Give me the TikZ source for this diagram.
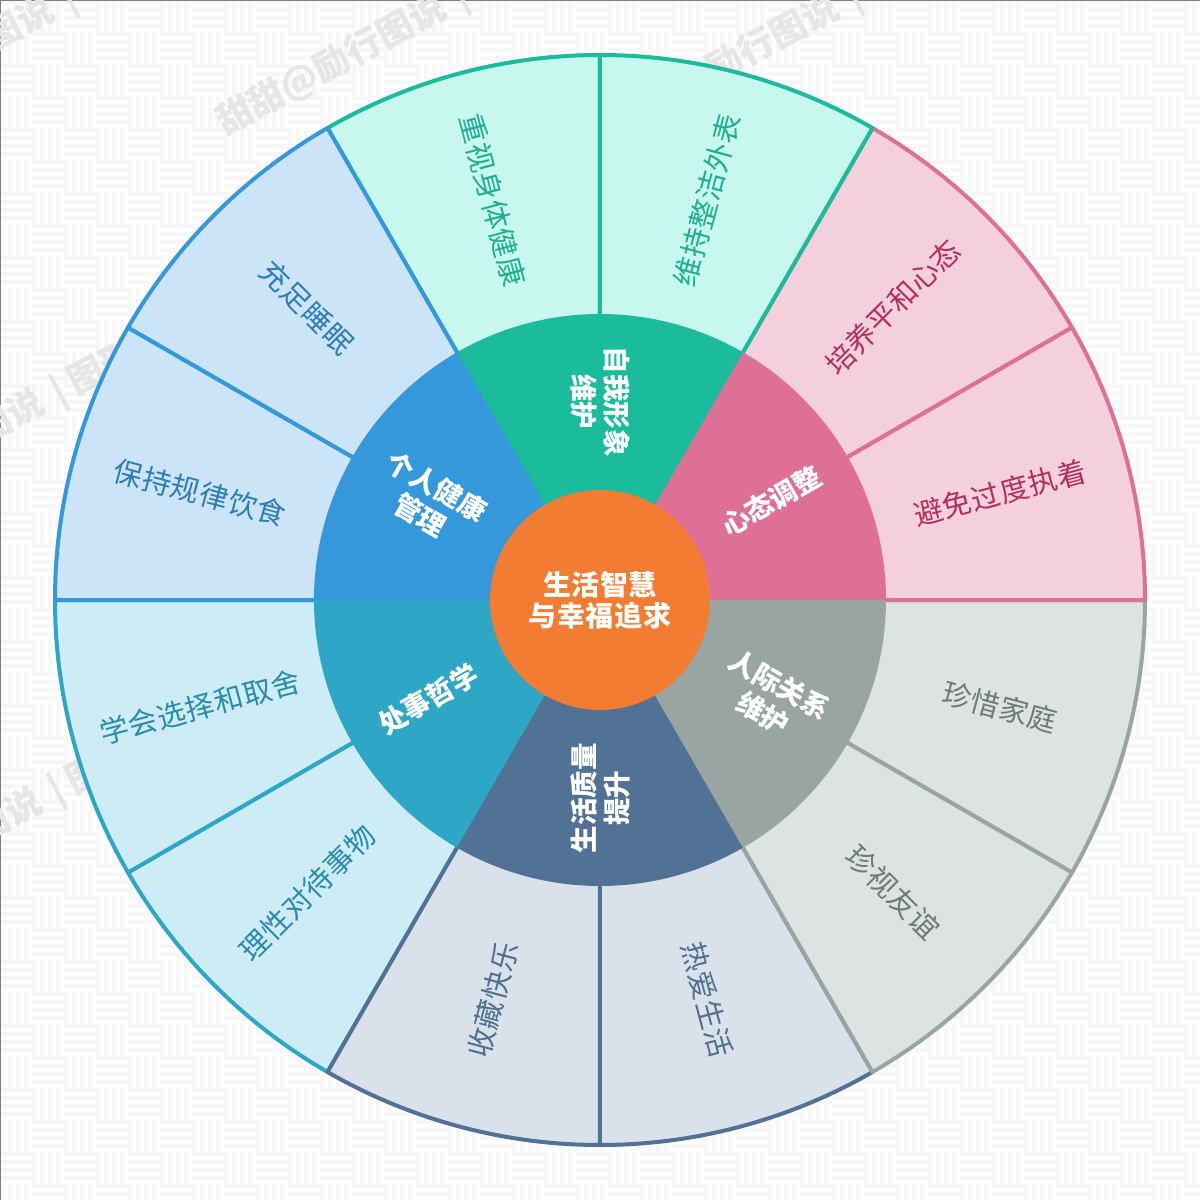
\documentclass[tikz,border=0pt]{standalone}
\usepackage{fontspec}
\newfontfamily\cjk{Noto Sans CJK SC}
\definecolor{wmk}{HTML}{E6E6E6}
\definecolor{stripe}{HTML}{F7F7F7}
\definecolor{paper}{HTML}{FEFEFE}
\definecolor{gA}{HTML}{DE7095}\definecolor{lA}{HTML}{F4CFDC}\definecolor{tA}{HTML}{B03060}
\definecolor{gB}{HTML}{1ABC9C}\definecolor{lB}{HTML}{C8F7EE}\definecolor{tB}{HTML}{1FAE92}
\definecolor{gC}{HTML}{3498DB}\definecolor{lC}{HTML}{CCE4F7}\definecolor{tC}{HTML}{2E7DB5}
\definecolor{gD}{HTML}{2EA6C6}\definecolor{lD}{HTML}{CDECF5}\definecolor{tD}{HTML}{2A8BAB}
\definecolor{gE}{HTML}{527295}\definecolor{lE}{HTML}{D9E1EA}\definecolor{tE}{HTML}{50708F}
\definecolor{gF}{HTML}{99A5A3}\definecolor{lF}{HTML}{DDE2E2}\definecolor{tF}{HTML}{6F7A78}
\definecolor{hub}{HTML}{F27C32}
\tikzset{
 outerlabel/.style={font=\cjk\addfontfeature{LetterSpace=2}\fontsize{29}{32}\selectfont,inner sep=0pt},
 midlabel/.style={font=\cjk\bfseries\fontsize{27.5}{33}\selectfont,text=white,align=center,inner sep=0pt},
 hublabel/.style={font=\cjk\bfseries\addfontfeature{LetterSpace=2}\fontsize{28}{31}\selectfont,text=white,align=center,inner sep=0pt},
 wmlabel/.style={font=\cjk\bfseries\fontsize{36}{36}\selectfont,text=wmk,inner sep=0pt,rotate=28,anchor=base east},
}
\newcommand{\outersec}[2]{\filldraw[fill=l#2,draw=g#2,line width=4pt,line join=round]
  (0,0) -- (#1:545) arc[start angle=#1,delta angle=30,radius=545] -- cycle;}
\newcommand{\midsec}[2]{\fill[g#2] (0,0) -- (#1:286) arc[start angle=#1,delta angle=60,radius=286] -- cycle;}
\newcommand{\wm}[3]{\node[wmlabel] (#1) at (#2) {甜甜@励行图说};\path (#2) ++(28:14) node[wmlabel,anchor=base west] (#1x) {#3};}
\begin{document}
\begin{tikzpicture}[x=1pt,y=1pt]
\useasboundingbox (-600,-600) rectangle (600,600);
\clip (-600,-600) rectangle (600,600);
\fill[paper] (-600,-600) rectangle (600,600);
% woven background
\foreach \i in {0,...,37}{\foreach \j in {0,...,37}{
  \pgfmathtruncatemacro{\px}{32*\i-600}\pgfmathtruncatemacro{\py}{600-32*\j}
  \ifodd\numexpr\i+\j\relax
    \fill[stripe] (\px,\py) rectangle +(4,-32) (\px+8,\py) rectangle +(4,-32) (\px+16,\py) rectangle +(4,-32) (\px+24,\py) rectangle +(4,-32);
  \else
    \fill[stripe] (\px,\py) rectangle +(32,-4) (\px,\py-8) rectangle +(32,-4) (\px,\py-16) rectangle +(32,-4) (\px,\py-24) rectangle +(32,-4);
  \fi
}}
\draw[gray,line width=3pt] (-600,-600) -- (-600,600) -- (600,600);
% watermarks
\wm{wa}{-151,584}{|}
\wm{wb}{-543,582}{|}
\wm{wc}{242,584}{|}
\wm{wd}{-553,189}{| 图形}
\wm{we}{-555,-210}{| 图形}
% outer ring: the later group keeps the shared spoke
\outersec{210}{D}\outersec{180}{D}
\outersec{270}{E}\outersec{240}{E}
\outersec{330}{F}\outersec{300}{F}
\outersec{30}{A}\outersec{0}{A}
\outersec{90}{B}\outersec{60}{B}
\outersec{150}{C}\outersec{120}{C}
% mid ring
\midsec{0}{A}\midsec{60}{B}\midsec{120}{C}\midsec{180}{D}\midsec{240}{E}\midsec{300}{F}
% hub
\node[circle,fill=hub,minimum size=220pt,inner sep=0pt] (hubdisc) at (0,0) {};
\node[hublabel] (hubtext) at (0,0) {生活智慧\\与幸福追求};
% mid labels
\node[midlabel,rotate=30] (m1) at (30:198) {心态调整};
\node[midlabel,rotate=-90] (m2) at (90:198) {自我形象\\维护};
\node[midlabel,rotate=-30] (m3) at (150:198) {个人健康\\管理};
\node[midlabel,rotate=30] (m4) at (210:198) {处事哲学};
\node[midlabel,rotate=90] (m5) at (270:198) {生活质量\\提升};
\node[midlabel,rotate=-30] (m6) at (330:198) {人际关系\\维护};
% outer labels
\node[outerlabel,text=tA,rotate=15] (o1) at (15:414) {避免过度执着};
\node[outerlabel,text=tA,rotate=45] (o2) at (45:414) {培养平和心态};
\node[outerlabel,text=tB,rotate=75] (o3) at (75:414) {维持整洁外表};
\node[outerlabel,text=tB,rotate=-75] (o4) at (105:414) {重视身体健康};
\node[outerlabel,text=tC,rotate=-45] (o5) at (135:414) {充足睡眠};
\node[outerlabel,text=tC,rotate=-15] (o6) at (165:414) {保持规律饮食};
\node[outerlabel,text=tD,rotate=15] (o7) at (195:414) {学会选择和取舍};
\node[outerlabel,text=tD,rotate=45] (o8) at (225:414) {理性对待事物};
\node[outerlabel,text=tE,rotate=75] (o9) at (255:414) {收藏快乐};
\node[outerlabel,text=tE,rotate=-75] (o10) at (285:414) {热爱生活};
\node[outerlabel,text=tF,rotate=-45] (o11) at (315:414) {珍视友谊};
\node[outerlabel,text=tF,rotate=-15] (o12) at (345:414) {珍惜家庭};
\end{tikzpicture}
\end{document}
